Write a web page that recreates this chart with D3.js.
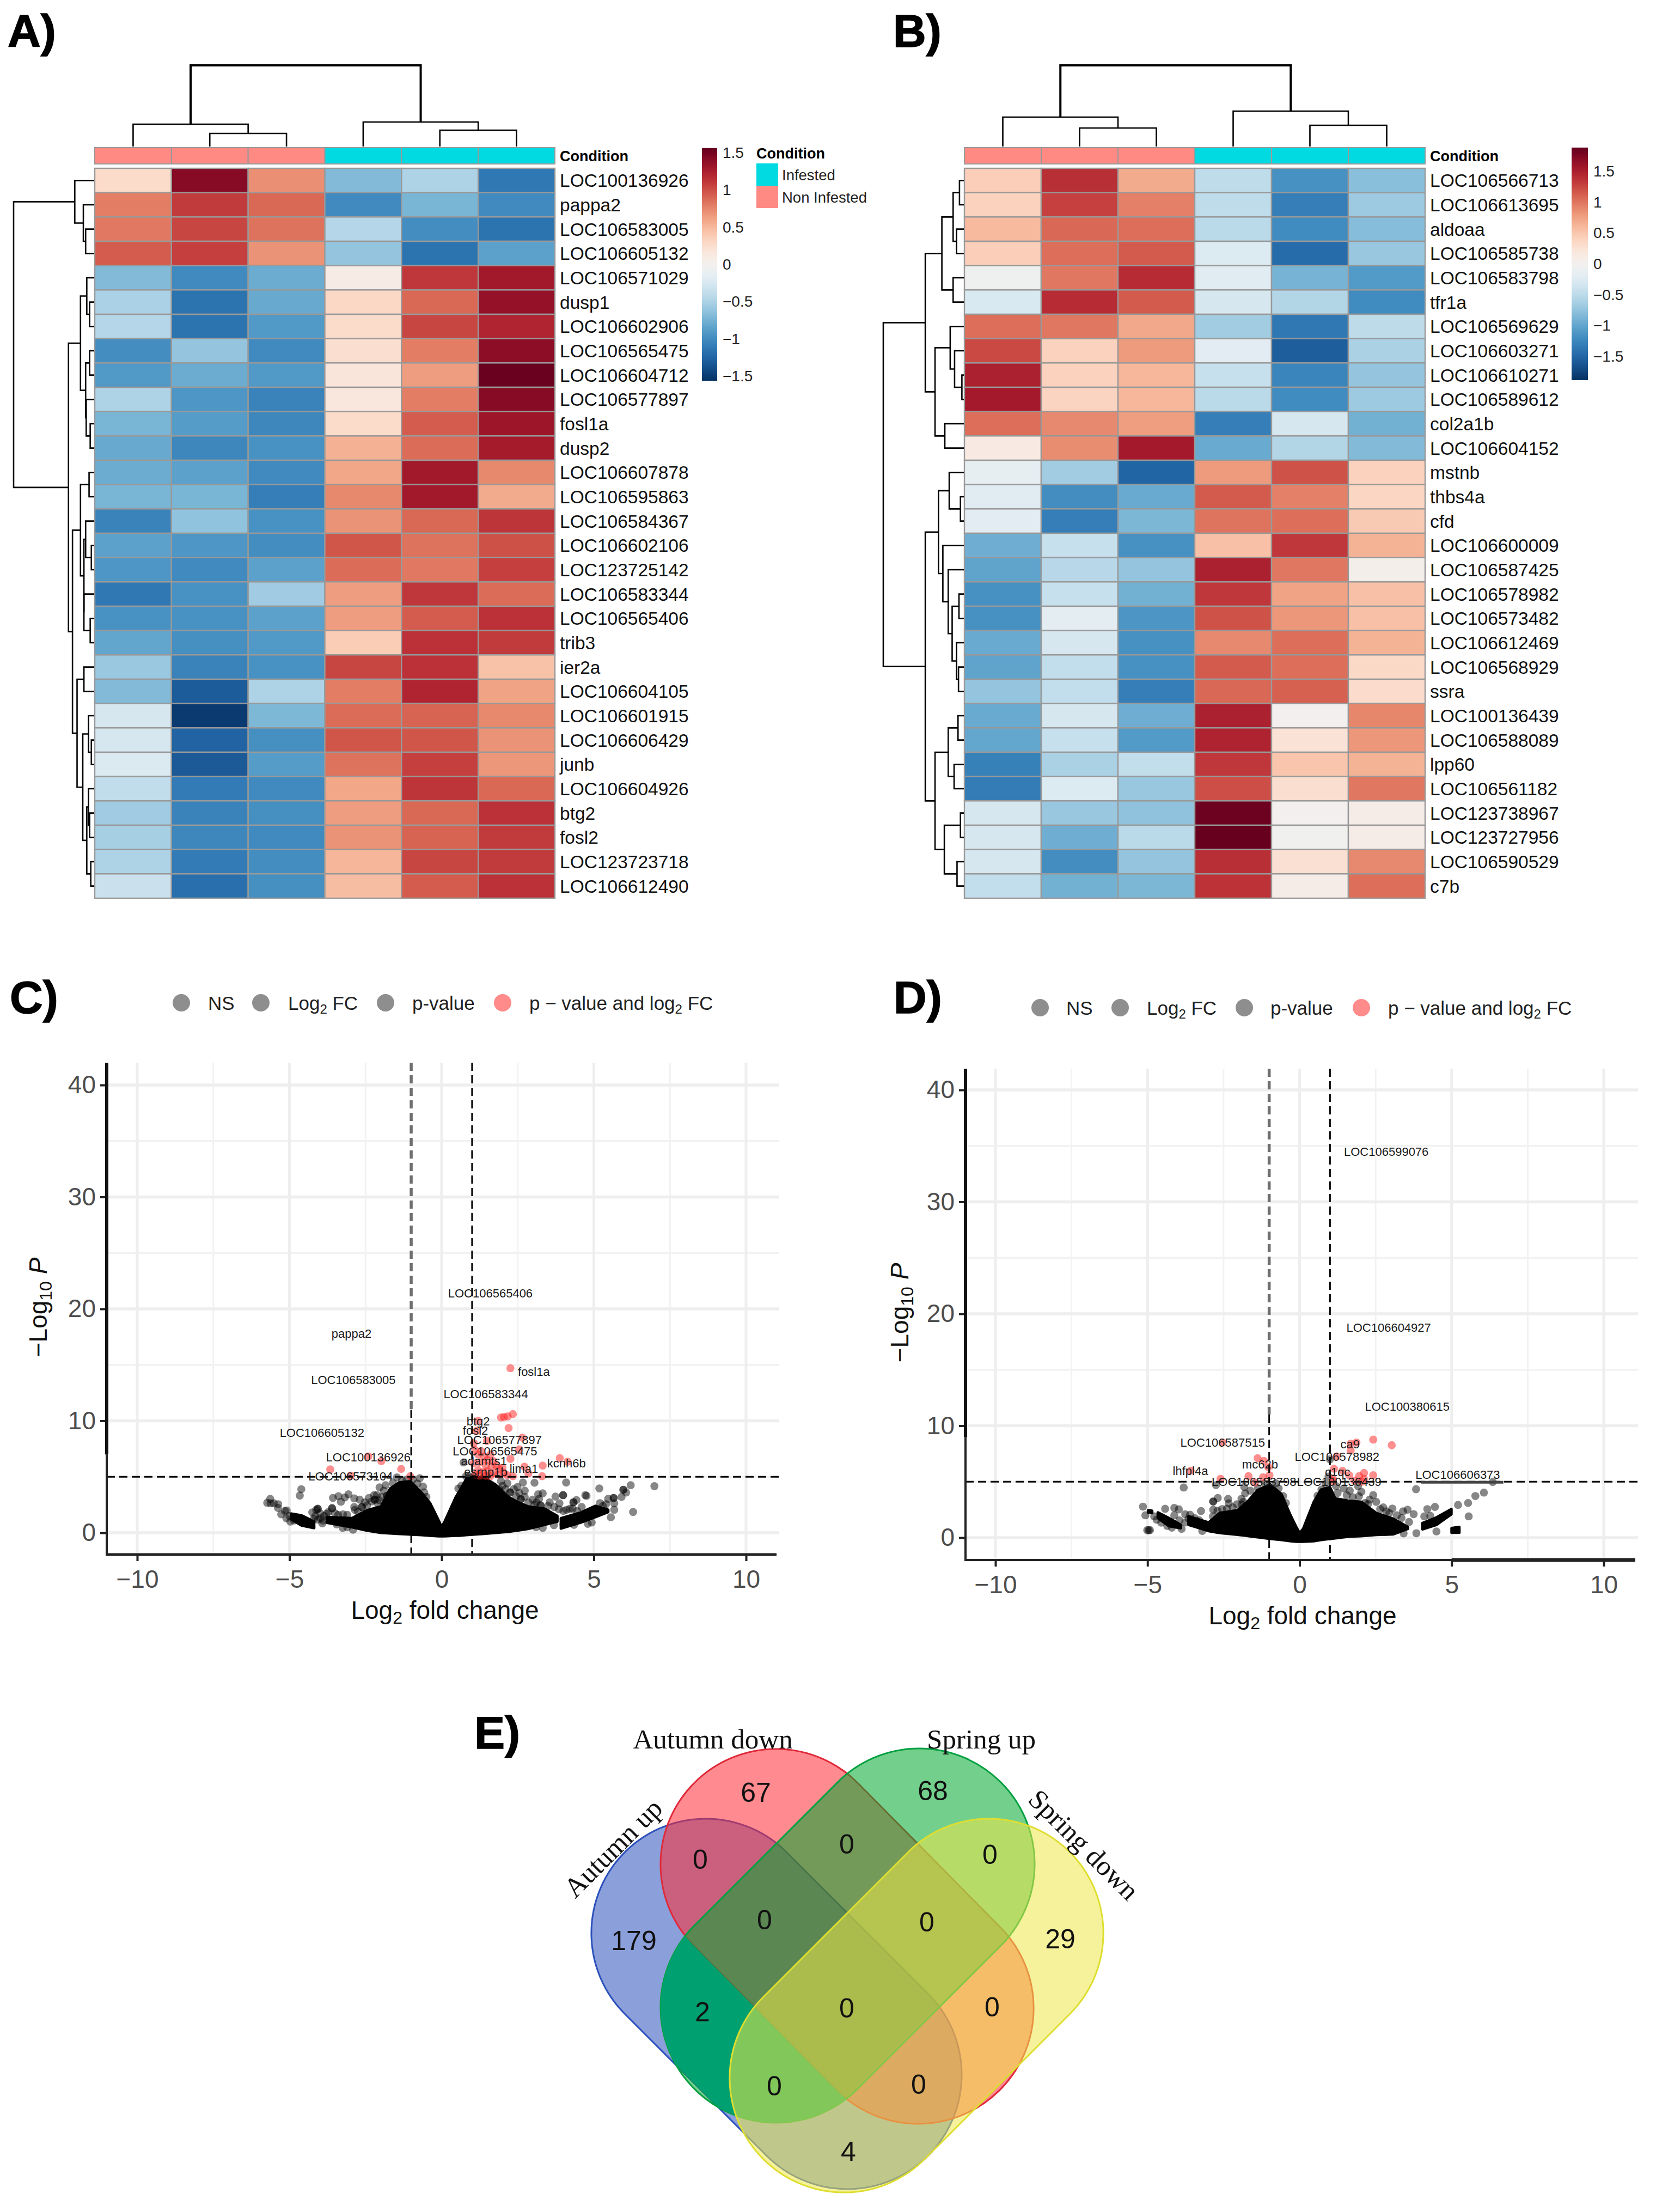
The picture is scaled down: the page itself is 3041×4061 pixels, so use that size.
<!DOCTYPE html>
<html><head><meta charset="utf-8">
<script src="https://cdn.jsdelivr.net/npm/d3@7"></script>
<style>html,body{margin:0;padding:0;background:#fff}svg{display:block}text{font-family:"Liberation Sans",Arial,sans-serif}</style>
</head><body><svg id="c" width="3041" height="4061" viewBox="0 0 3041 4061"></svg>
<script>
// ---------- DATA ----------
const columnConditions=["Non Infested","Non Infested","Non Infested","Infested","Infested","Infested"];
const genesA=["LOC100136926","pappa2","LOC106583005","LOC106605132","LOC106571029","dusp1","LOC106602906","LOC106565475","LOC106604712","LOC106577897","fosl1a","dusp2","LOC106607878","LOC106595863","LOC106584367","LOC106602106","LOC123725142","LOC106583344","LOC106565406","trib3","ier2a","LOC106604105","LOC106601915","LOC106606429","junb","LOC106604926","btg2","fosl2","LOC123723718","LOC106612490"];
const valuesA=[[.28,1.42,.72,-.68,-.48,-1.12],[.8,1.1,.9,-1.0,-.72,-1.0],[.82,1.05,.85,-.45,-.98,-1.15],[.95,1.08,.7,-.6,-1.15,-.85],[-.68,-1.0,-.78,.1,1.12,1.3],[-.5,-1.15,-.8,.3,.9,1.36],[-.45,-1.15,-.9,.28,1.05,1.22],[-.98,-.6,-1.0,.25,.8,1.4],[-.9,-.78,-.9,.18,.65,1.55],[-.48,-.92,-1.05,.16,.8,1.42],[-.72,-.88,-1.02,.28,.95,1.33],[-.8,-1.02,-.95,.55,.88,1.28],[-.78,-.85,-1.0,.6,1.3,.75],[-.72,-.72,-1.08,.75,1.3,.58],[-1.05,-.62,-.95,.7,.9,1.13],[-.85,-.92,-.98,.98,.85,1.0],[-.92,-1.0,-.85,.88,.82,1.08],[-1.12,-.95,-.55,.65,1.12,.88],[-.95,-.95,-.85,.65,.95,1.15],[-.82,-.97,-.9,.38,1.15,1.1],[-.58,-1.05,-.95,1.05,1.15,.45],[-.68,-1.3,-.48,.8,1.22,.62],[-.25,-1.5,-.7,.88,.92,.75],[-.25,-1.25,-.97,.98,.98,.7],[-.22,-1.32,-.88,.85,1.08,.68],[-.38,-1.1,-1.0,.6,1.13,.9],[-.55,-1.05,-.97,.65,.9,1.15],[-.52,-1.02,-1.0,.7,.92,1.1],[-.48,-1.1,-.98,.52,1.05,1.1],[-.33,-1.18,-.97,.48,.95,1.15]];
const genesB=["LOC106566713","LOC106613695","aldoaa","LOC106585738","LOC106583798","tfr1a","LOC106569629","LOC106603271","LOC106610271","LOC106589612","col2a1b","LOC106604152","mstnb","thbs4a","cfd","LOC106600009","LOC106587425","LOC106578982","LOC106573482","LOC106612469","LOC106568929","ssra","LOC100136439","LOC106588089","lpp60","LOC106561182","LOC123738967","LOC123727956","LOC106590529","c7b"];
const valuesB=[[.45,1.4,.7,-.47,-1.15,-.78],[.42,1.3,.95,-.47,-1.3,-.68],[.6,1.08,1.05,-.5,-1.2,-.8],[.45,1.05,1.15,-.25,-1.45,-.7],[-.05,1.0,1.42,-.22,-.88,-1.08],[-.28,1.42,1.15,-.3,-.55,-1.2],[1.05,1.0,.72,-.65,-1.35,-.48],[1.25,.42,.8,-.2,-1.55,-.6],[1.5,.42,.62,-.42,-1.25,-.72],[1.55,.4,.62,-.5,-1.2,-.68],[1.05,.9,.78,-1.3,-.3,-.9],[.15,.88,1.55,-.95,-.55,-.82],[-.15,-.65,-1.5,.8,1.2,.42],[-.22,-1.18,-.95,1.15,.95,.38],[-.2,-1.3,-.85,1.02,1.05,.48],[-.92,-.42,-1.15,.55,1.35,.65],[-1.0,-.52,-.72,1.5,1.0,.05],[-1.15,-.42,-.9,1.35,.75,.55],[-1.15,-.18,-1.12,1.2,.82,.55],[-.95,-.3,-1.15,.9,1.05,.65],[-1.0,-.45,-1.15,1.15,1.05,.35],[-.72,-.45,-1.3,1.08,1.12,.32],[-.95,-.3,-.92,1.5,0,.92],[-.98,-.42,-1.08,1.48,.25,.82],[-1.28,-.6,-.45,1.35,.52,.65],[-1.32,-.25,-.7,1.22,.3,1.0],[-.3,-.7,-.75,1.85,0,.1],[-.3,-.92,-.5,1.88,-.02,.1],[-.3,-1.18,-.72,1.4,.28,.9],[-.45,-.9,-.85,1.38,.1,1.05]];
// dendrograms: [height, left, right]; an integer is a leaf
const colTreeA=[149,[41,0,[24,1,2]],[45,3,[30,4,5]]];
const colTreeB=[149,[54,0,[34,1,2]],[65,3,[39,4,5]]];
const rowTreeA=[141,[34,0,[19,1,[15,2,3]]],[45,[24,[13,4,[8,5,6]],[15,[8,7,8],[14,9,[7,10,11]]]],[38,[24,[9,12,13],[18,[15,14,[5,15,16]],[18,17,[7,18,19]]]],[30,[18,20,21],[20,[10,22,[5,23,24]],[13,[10,25,[8,26,27]],[6,28,29]]]]]]];
const rowTreeB=[165,[79,[45,[22,[9,0,1],[15,2,3]],[22,4,5]],[59,[28,6,[19,7,[4,8,9]]],[39,10,11]]],[79,[52,[30,12,[7,13,14]],[43,15,[32,16,[24,[10,17,18],[15,19,[11,20,21]]]]]],[59,[32,[12,22,23],[20,24,25]],[40,[7,26,27],[14,28,29]]]]];
const legendTicksA=[1.5,1,.5,0,-.5,-1,-1.5];
const legendTicksB=[1.5,1,.5,0,-.5,-1,-1.5];
const xTicks=[-10,-5,0,5,10], yTicks=[0,10,20,30,40], xMinor=[-7.5,-2.5,2.5,7.5], yMinor=[5,15,25,35];
// volcano C
const massXC=[-3.77,-2.94,-2.46,-1.99,-1.69,-1.39,-1.03,-.68,-.38,-.1,0,.1,.46,.58,.82,1.35,1.77,2.19,2.49,2.84,3.38,3.8];
const massTopC=[1.4,1.3,2.0,2.35,3.95,4.5,4.6,3.65,2.65,1.1,.5,1.0,3.15,3.7,4.85,5.0,4.3,3.2,2.75,2.35,2.15,1.5];
const massBotC=[.9,.5,.2,0,-.05,-.1,-.15,-.2,-.25,-.3,-.3,-.3,-.25,-.25,-.2,-.1,0,.1,.2,.35,.72,1.0];
const tailsC=[{x:[-4.94,-4.6,-4.19],top:[1.7,1.55,1.0],bot:[1.2,.65,.42]},{x:[3.92,4.57,5.05,5.47],top:[1.3,1.8,2.4,2.05],bot:[.38,.92,1.4,1.85]}];
const grayC=[[-4.61,3.89],[-4.66,3.32],[-5.63,3.03],[-5.73,2.68],[-5.62,2.63],[-5.51,2.63],[-5.37,2.55],[-5.38,2.22],[-5.09,1.99],[-5.27,1.65],[-5.15,1.95],[-4.97,1.0],[-4.07,2.14],[-4.07,2.14],[-4.12,2.05],[-4.25,1.82],[-4.07,1.17],[-3.92,.84],[-3.86,1.5],[-3.98,1.3],[-3.6,2.19],[-3.6,2.19],[-3.57,3.11],[-3.39,3.27],[-3.31,2.77],[-3.18,3.16],[-3.06,3.44],[-2.87,3.07],[-2.69,2.96],[-2.87,2.3],[-2.85,2.05],[-3.24,1.65],[-3.25,.44],[-2.91,.27],[-2.52,2.72],[-2.39,3.11],[-2.13,3.36],[-2.1,2.63],[-2.22,3.36],[-2.3,2.8],[-2.04,4.05],[-1.84,4.25],[-1.9,3.76],[-1.98,3.2],[-1.47,4.95],[-1.3,4.7],[-1.15,4.75],[-.95,4.75],[-.8,4.4],[-.72,4.87],[-.61,4.13],[-.57,3.6],[-.5,3.2],[-1.6,4.45],
[-4.2,1.25],[-4.15,1.5],[-4.0,1.75],[-3.9,1.1],[-3.78,1.7],[-3.72,1.85],[-3.5,1.75],[-3.4,1.6],[-3.1,1.6],[-2.75,1.9],[-2.62,2.3],[-2.62,2.3],[-2.45,2.45],[-2.2,2.95],[-2.2,2.95],[-2.05,2.9],[-1.8,3.3],[-1.8,3.3],[-5.0,1.5],[-5.1,1.3],[-4.85,1.1],[-3.45,.75],[-3.1,.5],
[3.05,4.47],[4.09,4.49],[5.18,3.96],[6.99,4.16],[6.21,4.25],[5.97,3.84],[5.97,3.84],[6.06,3.6],[5.91,3.2],[6.29,1.86],[5.56,1.38],[5.67,2.06],[5.65,3.11],[5.65,3.11],[5.67,2.63],[5.47,3.03],[4.72,3.36],[4.76,3.3],[4.33,2.72],[4.33,2.72],[4.43,2.92],[4.6,2.3],[3.99,3.36],[3.99,3.36],[3.74,3.23],[3.87,2.63],[3.55,2.72],[3.32,3.52],[3.17,3.44],[3.2,3.03],[2.99,2.96],[3.11,2.72],[3.32,.44],[3.69,.68],[2.73,3.76],[2.73,3.2],[2.67,4.49],[2.49,4.09],[2.37,3.9],[2.16,4.42],[1.89,3.9],[1.77,3.84],[1.59,4.2],[2.55,3.55],[4.21,2.14],[4.1,2.05],[4.93,.92],[4.8,.8],[3.1,.5],[.72,6.28],[.8,5.05],[.55,3.95],[.65,4.2],[.9,5.0],[1.05,5.05],
[1.95,4.6],[2.0,4.2],[2.25,3.6],[2.25,3.6],[2.1,3.9],[2.45,3.25],[2.6,3.0],[2.6,3.0],[2.85,2.7],[3.05,2.5],[3.25,2.45],[3.25,2.45],[3.5,2.4],[3.7,2.3],[3.85,2.1],[4.0,1.95],[4.3,2.15],[4.45,1.95],[4.0,.75],[4.35,.7],[5.3,2.4],[5.4,2.55],[5.2,2.65]];
const redC=[[2.26,14.7],[2.05,10.35],[2.34,10.6],[2.17,10.4],[1.95,10.3],[2.2,9.35],[1.2,10.0],[1.15,9.1],[2.65,8.5],[1.49,8.2],[1.06,8.0],[2.55,7.45],[3.88,6.67],[4.14,6.35],[3.32,6.0],[3.3,5.05],[2.72,5.9],[2.85,5.3],[2.26,6.6],[2.34,5.05],[1.1,7.4],[1.2,7.0],[1.3,7.3],[1.4,6.8],[1.5,6.5],[1.6,7.0],[1.7,6.4],[1.25,6.3],[1.45,6.0],[1.65,5.9],[1.8,6.0],[1.9,5.7],[2.0,5.8],[1.2,5.6],[1.35,5.4],[1.5,5.5],[1.7,5.3],[1.85,5.2],[2.05,5.3],[1.1,5.2],[1.25,5.1],[1.45,5.1],[1.6,5.05],[2.15,5.15],[1.05,6.2],[-3.66,5.66],[-2.41,6.82],[-1.98,6.4],[-1.33,5.7],[-1.03,5.05],[-2.99,5.1]];
const labelsC=[["LOC106565406",1.6,21.4],["pappa2",-2.96,17.8],["fosl1a",3.03,14.4],["LOC106583005",-2.9,13.65],["LOC106583344",1.45,12.4],["btg2",1.2,9.96],["LOC106605132",-3.93,8.95],["fosl2",1.11,9.15],["LOC106577897",1.9,8.33],["LOC106565475",1.75,7.29],["LOC100136926",-2.41,6.78],["adamts1",1.39,6.4],["kcnh6b",4.1,6.24],["lima1",2.7,5.74],["esrnp1b",1.45,5.47],["LOC106573104",-2.99,5.04]];
// volcano D
const massXD=[-3.65,-2.99,-2.63,-2.04,-1.68,-1.38,-.97,-.6,-.3,-.1,0,.12,.47,.71,1.0,1.17,1.6,2.03,2.52,3.07,3.56];
const massTopD=[1.9,1.35,2.2,2.45,3.3,4.25,4.75,3.9,2.0,.9,.4,.8,3.2,4.3,4.5,3.5,3.3,3.2,2.2,1.7,.95];
const massBotD=[1.15,.6,.42,.27,.15,.05,-.1,-.2,-.3,-.35,-.35,-.35,-.3,-.2,-.1,-.05,.1,.15,.25,.3,.8];
const tailsD=[{x:[-4.66,-4.3,-3.91],top:[2.25,1.75,1.15],bot:[1.75,1.05,.85]},{x:[-4.98,-4.85],top:[2.45,2.4],bot:[2.25,2.2]},{x:[4.04,4.5,4.99],top:[1.3,1.8,2.55],bot:[.75,1.15,2.1]},{x:[5.0,5.25],top:[.85,.95],bot:[.45,.45]}];
const grayD=[[-3.81,4.48],[-5.15,2.77],[-5.07,2.0],[-5.01,.67],[-4.92,.67],[-4.96,.67],[-4.42,2.58],[-4.12,2.66],[-3.97,2.53],[-4.12,2.0],[-3.24,2.38],[-3.76,2.09],[-3.76,1.36],[-3.88,.78],[-4.2,.9],[-3.2,.6],[-2.84,3.23],[-2.84,3.23],[-2.69,3.55],[-2.35,3.47],[-2.33,3.07],[-2.06,2.98],[-2.84,2.5],[-2.39,2.58],[-1.91,3.47],[-1.82,4.53],[-1.79,3.96],[-1.62,4.2],[-2.75,4.69],[-1.37,4.4],[-1.15,4.85],[-.78,4.86],[-.69,4.4],[-.54,3.71],[-.45,3.1],[.59,3.75],
[-4.78,1.9],[-4.7,1.6],[-4.55,1.35],[-4.35,1.05],[-3.95,1.55],[-3.6,2.05],[-3.65,1.7],[-3.45,1.75],[-3.3,1.55],[-2.85,1.9],[-2.7,2.4],[-2.55,2.55],[-2.2,2.7],[-1.9,2.95],[-1.85,3.2],
[5.21,2.92],[5.54,3.1],[5.78,3.72],[6.06,4.03],[5.56,1.9],[6.35,4.97],[3.83,4.33],[3.42,.39],[3.84,.4],[4.5,.55],[1.0,7.0],[.95,5.45],[.85,4.8],[.72,4.3],[1.2,4.6],[1.45,4.4],[1.65,4.2],[1.92,4.6],[2.03,4.1],[2.3,3.4],[2.42,3.8],[2.52,3.2],[2.75,2.7],[2.85,2.35],[3.05,2.6],[3.2,2.0],[3.4,2.35],[3.55,2.5],[3.75,2.1],[4.2,2.55],[4.45,2.75],[4.1,1.9],[3.6,1.4],[1.25,4.0],[1.75,3.6],[2.15,3.1],[1.55,3.8],[1.95,3.7],[2.25,3.0],[2.65,2.55],[2.95,2.2],[3.35,1.75],[4.3,1.95]];
const redD=[[-2.53,8.5],[-1.38,7.1],[-1.17,6.86],[-1.03,6.3],[-3.58,5.98],[-2.6,5.26],[-1.68,5.5],[-1.2,5.4],[-.99,5.58],[-1.47,4.93],[2.42,8.76],[3.03,8.26],[1.68,8.4],[1.87,8.5],[1.68,7.8],[1.22,7.25],[1.13,6.16],[1.41,5.97],[2.12,5.78],[2.42,5.58],[1.96,5.5],[1.63,5.58],[1.09,5.3],[2.12,5.25],[1.8,5.1],[1.1,5.05],[2.05,5.0]];
const labelsD=[["LOC106599076",2.85,34.5],["LOC106604927",2.93,18.8],["LOC100380615",3.54,11.74],["LOC106587515",-2.53,8.53],["ca9",1.66,8.37],["LOC106578982",1.23,7.25],["mc62b",-1.3,6.55],["lhfpl4a",-3.59,5.97],["c1qc",1.25,5.89],["LOC106606373",5.2,5.66],["LOC106583798",-1.5,5.0],["LOC100136439",1.3,5.0]];
const connectorD=[[4.0,4.95],[6.7,4.95]];
// Venn
const vennSets=[{name:"Autumn up",fill:"#2c50bb",edge:"#2c50bb",ends:[[1296,3549],[1556,3809]],r:210},
{name:"Autumn down",fill:"#ff2a33",edge:"#e02a3a",ends:[[1425,3423],[1686,3687]],r:212},
{name:"Spring up",fill:"#00a72e",edge:"#00a040",ends:[[1688,3422],[1425,3685]],r:212},
{name:"Spring down",fill:"#ece749",edge:"#dede30",ends:[[1816,3549],[1550,3815]],r:210}];
const vennCounts=[[179,1164,3562],[67,1388,3290],[68,1713,3287],[29,1947,3559],[0,1286,3413],[0,1555,3385],[0,1818,3404],[0,1404,3524],[0,1702,3528],[2,1290,3693],[0,1555,3686],[0,1822,3684],[0,1422,3829],[0,1687,3826],[4,1558,3949]];

// ---------- DRAW ----------
const svg=d3.select("#c");
const black="#000";
function panelLetter(t,x,y){svg.append("text").attr("x",x).attr("y",y).attr("font-size",84).attr("font-weight",700).attr("fill",black).style("stroke","#000").style("stroke-width",1.5).text(t);}
panelLetter("A)",14,86);panelLetter("B)",1640,86);panelLetter("C)",18,1860);panelLetter("D)",1641,1860);panelLetter("E)",871,3210);

function drawTree(g,node,posOf,hScale,orient,thick){
  function rec(n,top){
    if(typeof n==="number")return{p:posOf(n),h:hScale(0)};
    const a=rec(n[1],false),b=rec(n[2],false),H=hScale(n[0]);
    const d=orient==="top"?`M${a.p},${a.h}V${H}H${b.p}V${b.h}`:`M${a.h},${a.p}H${H}V${b.p}H${b.h}`;
    g.append("path").attr("d",d).attr("fill","none").attr("stroke",black).attr("stroke-width",top?4:2.6);
    return{p:(a.p+b.p)/2,h:H};
  }
  rec(node,orient==="top");
}
function heatmap(o){
  const g=svg.append("g");
  const x=d3.scaleBand().domain(d3.range(6)).range([o.x0,o.x1]);
  const y=d3.scaleBand().domain(d3.range(o.genes.length)).range([309,1649]);
  const color=d3.scaleSequential(d3.interpolateRdBu).domain([o.max,-o.max]);
  const condColor=d3.scaleOrdinal().domain(["Infested","Non Infested"]).range(["#00dae0","#ff8a84"]);
  g.selectAll(".a").data(columnConditions).join("rect").attr("x",(d,i)=>x(i)).attr("y",271).attr("width",x.bandwidth()).attr("height",30).attr("fill",d=>condColor(d)).attr("stroke","#999").attr("stroke-width",2);
  g.append("text").attr("x",o.x1+9).attr("y",286).attr("dy",".36em").attr("font-size",27).attr("font-weight",700).text("Condition");
  o.vals.forEach((r,i)=>r.forEach((v,j)=>g.append("rect").attr("x",x(j)).attr("y",y(i)).attr("width",x.bandwidth()).attr("height",y.bandwidth()).attr("fill",color(v)).attr("stroke","#999").attr("stroke-width",2.4)));
  g.selectAll(".g").data(o.genes).join("text").attr("x",o.x1+9).attr("y",(d,i)=>y(i)+y.bandwidth()/2).attr("dy",".36em").attr("font-size",33.5).attr("fill","#111").text(d=>d);
  const topH=d3.scaleLinear().domain([0,149]).range([269,120]);
  drawTree(g,o.colTree,i=>x(i)+x.bandwidth()/2,topH,"top");
  const rowH=d3.scaleLinear().domain([0,o.rowTree[0]]).range([o.x0-1,o.rootX]);
  drawTree(g,o.rowTree,i=>y(i)+y.bandwidth()/2,rowH,"left");
  const cb=d3.scaleLinear().domain(o.cbDomain).range(o.cbRange);
  const vs=d3.range(o.max,-o.max,-(2*o.max)/140);
  g.selectAll(".cb").data(vs).join("rect").attr("x",o.cbx).attr("width",o.cbw).attr("y",d=>cb(d)).attr("height",4).attr("fill",d=>color(d));
  g.selectAll(".cbt").data(o.ticks).join("text").attr("x",o.cbx+o.cbw+10).attr("y",d=>cb(d)).attr("dy",".36em").attr("font-size",28).attr("fill","#222").text(d=>d3.format("")(d).replace("-","\u2212"));
}
heatmap({x0:174,x1:1019,genes:genesA,vals:valuesA,max:1.56,colTree:colTreeA,rowTree:rowTreeA,rootX:25,cbx:1289,cbw:28,cbDomain:[1.5,-1.5],cbRange:[280,690],ticks:legendTicksA});
heatmap({x0:1771,x1:2617,genes:genesB,vals:valuesB,max:1.88,colTree:colTreeB,rowTree:rowTreeB,rootX:1622,cbx:2886,cbw:30,cbDomain:[1.5,-1.5],cbRange:[314,654],ticks:legendTicksB});
svg.append("text").attr("x",1389).attr("y",281).attr("dy",".36em").attr("font-size",27).attr("font-weight",700).text("Condition");
[["Infested","#00dae0",300],["Non Infested","#ff8a84",341]].forEach(d=>{
  svg.append("rect").attr("x",1389).attr("y",d[2]).attr("width",40).attr("height",41).attr("fill",d[1]);
  svg.append("text").attr("x",1436).attr("y",d[2]+21).attr("dy",".36em").attr("font-size",27.5).attr("fill","#222").text(d[0]);
});

function volcano(o){
  const g=svg.append("g");
  const x=d3.scaleLinear().domain([-10,10]).range([o.xm10,o.xp10]);
  const y=d3.scaleLinear().domain([0,40]).range([o.y0,o.y40]);
  const L=o.left,R=o.right,T=o.top,B=o.bottom;
  const vline=(v,w,c)=>g.append("line").attr("x1",x(v)).attr("x2",x(v)).attr("y1",T).attr("y2",B).attr("stroke",c).attr("stroke-width",w);
  const hline=(v,w,c)=>g.append("line").attr("x1",L).attr("x2",R+5).attr("y1",y(v)).attr("y2",y(v)).attr("stroke",c).attr("stroke-width",w);
  xMinor.forEach(v=>vline(v,3,"#f2f2f2"));yMinor.forEach(v=>hline(v,3.5,"#f2f2f2"));
  xTicks.forEach(v=>vline(v,5,"#eeeeee"));yTicks.forEach(v=>hline(v,5.5,"#eeeeee"));
  const area=d3.area().x(d=>x(d[0])).y0(d=>y(d[2])).y1(d=>y(d[1]));
  const mass=[{x:o.massX,top:o.massTop,bot:o.massBot},...o.tails];
  mass.forEach(m=>g.append("path").attr("d",area(m.x.map((v,i)=>[v,m.top[i],m.bot[i]]))).attr("fill",black).attr("stroke",black).attr("stroke-width",5).attr("stroke-linejoin","round"));
  g.selectAll(".p").data(o.gray).join("circle").attr("cx",d=>x(d[0])).attr("cy",d=>y(d[1])).attr("r",7.4).attr("fill",black).attr("fill-opacity",.47);
  g.selectAll(".r").data(o.red).join("circle").attr("cx",d=>x(d[0])).attr("cy",d=>y(d[1])).attr("r",7.4).attr("fill","#ff1f1f").attr("fill-opacity",.5);
  const dash=(x1,y1,x2,y2,c,w)=>g.append("line").attr("x1",x1).attr("y1",y1).attr("x2",x2).attr("y2",y2).attr("stroke",c).attr("stroke-width",w).attr("stroke-dasharray","15,8");
  dash(x(-1),T,x(-1),y(11),"#6f6f6f",5.5);
  dash(x(-1),y(11),x(-1),B,black,3);
  dash(x(1),T,x(1),B,black,3);
  dash(L,y(5),R+5,y(5),black,3);
  if(o.connector)g.append("line").attr("x1",x(o.connector[0][0])).attr("x2",x(o.connector[1][0])).attr("y1",y(o.connector[0][1])).attr("y2",y(o.connector[1][1])).attr("stroke","#444").attr("stroke-width",5);
  g.selectAll(".l").data(o.labels).join("text").attr("x",d=>x(d[1])).attr("y",d=>y(d[2])).attr("dy",".36em").attr("text-anchor","middle").attr("font-size",22).attr("fill","#1a1a1a").text(d=>d[0]);
  const yAxis=d3.axisLeft(y).tickValues(yTicks).tickSize(12).tickFormat(d3.format("d"));
  const xAxis=d3.axisBottom(x).tickValues(xTicks).tickSize(12).tickFormat(d=>String(d).replace("-","\u2212"));
  const ya=g.append("g").attr("transform",`translate(${L},0)`).call(yAxis);
  const xa=g.append("g").attr("transform",`translate(0,${B})`).call(xAxis);
  ya.select(".domain").remove();xa.select(".domain").remove();
  // the axis lines change weight part-way in the reference
  g.append("line").attr("x1",L).attr("x2",L).attr("y1",T).attr("y2",y(o.yThickTo)).attr("stroke","#111").attr("stroke-width",6);
  g.append("line").attr("x1",L).attr("x2",L).attr("y1",y(o.yThickTo)).attr("y2",B+2).attr("stroke","#222").attr("stroke-width",4);
  g.append("line").attr("x1",L-2).attr("x2",R).attr("y1",B).attr("y2",B).attr("stroke","#222").attr("stroke-width",o.xThin);
  if(o.xThickFrom!==undefined)g.append("line").attr("x1",x(o.xThickFrom)).attr("x2",R).attr("y1",B).attr("y2",B).attr("stroke","#222").attr("stroke-width",7);
  [ya,xa].forEach(a=>{a.selectAll("line").attr("stroke","#222").attr("stroke-width",4);a.selectAll("text").attr("font-size",46).attr("fill","#4d4d4d").attr("font-family","Liberation Sans");});
  ya.selectAll("text").attr("x",-20);xa.selectAll("text").attr("y",28);
  const xt=g.append("text").attr("x",o.xTitleX).attr("y",o.xTitleY).attr("text-anchor","middle").attr("font-size",46).attr("fill","#111");
  xt.append("tspan").text("Log");xt.append("tspan").text("2").attr("font-size",32).attr("dy",9);xt.append("tspan").text(" fold change").attr("dy",-9);
  const yt=g.append("text").attr("transform",`translate(${o.yTitleX},${o.yTitleY}) rotate(-90)`).attr("text-anchor","middle").attr("font-size",46).attr("fill","#111");
  yt.append("tspan").text("\u2212Log");yt.append("tspan").text("10").attr("font-size",32).attr("dy",9);yt.append("tspan").text(" ").attr("dy",-9);yt.append("tspan").text("P").attr("font-style","italic");
  const ly=o.legendY;
  o.legend.forEach(l=>{
    g.append("circle").attr("cx",l.dot).attr("cy",ly).attr("r",16).attr("fill",l.red?"#ff8b8b":"#8e8e8e");
    const t=g.append("text").attr("x",l.tx).attr("y",ly).attr("dy",".36em").attr("font-size",35).attr("fill","#222");
    if(l.sub){t.append("tspan").text(l.sub[0]);t.append("tspan").text("2").attr("font-size",24).attr("dy",7);t.append("tspan").text(l.sub[1]).attr("dy",-7);}
    else t.text(l.text);
  });
}
volcano({xm10:252,xp10:1370,y0:2814,y40:1992,left:196,right:1426,top:1951,bottom:2854,yThickTo:7,xThin:5,massX:massXC,massTop:massTopC,massBot:massBotC,tails:tailsC,gray:grayC,red:redC,labels:labelsC,xTitleX:817,xTitleY:2972,yTitleX:86,yTitleY:2400,legendY:1841,
 legend:[{dot:333,tx:382,text:"NS"},{dot:479,tx:529,sub:["Log"," FC"]},{dot:708,tx:757,text:"p-value"},{dot:923,tx:972,red:1,sub:["p \u2212 value and log"," FC"]}]});
volcano({xm10:1828,xp10:2945,y0:2823,y40:2001,left:1773,right:3003,top:1962,bottom:2864,yThickTo:9,xThin:4,xThickFrom:5,massX:massXD,massTop:massTopD,massBot:massBotD,tails:tailsD,gray:grayD,red:redD,labels:labelsD,connector:connectorD,xTitleX:2392,xTitleY:2982,yTitleX:1668,yTitleY:2410,legendY:1850,
 legend:[{dot:1910,tx:1958,text:"NS"},{dot:2057,tx:2106,sub:["Log"," FC"]},{dot:2285,tx:2333,text:"p-value"},{dot:2500,tx:2549,red:1,sub:["p \u2212 value and log"," FC"]}]});

// Venn
const vg=svg.append("g"), defs=svg.append("defs");
function capsule(s){
  const [a,b]=s.ends,ang=Math.atan2(b[1]-a[1],b[0]-a[0]),nx=-Math.sin(ang)*s.r,ny=Math.cos(ang)*s.r;
  const p=d3.path();
  p.moveTo(a[0]+nx,a[1]+ny);p.lineTo(b[0]+nx,b[1]+ny);
  p.arc(b[0],b[1],s.r,ang+Math.PI/2,ang-Math.PI/2,true);
  p.lineTo(a[0]-nx,a[1]-ny);
  p.arc(a[0],a[1],s.r,ang-Math.PI/2,ang+Math.PI/2,true);
  p.closePath();
  return p.toString();
}
const [vBlue,vRed,vGreen,vYellow]=vennSets;
const drawSet=s=>vg.append("path").attr("d",capsule(s)).attr("fill",s.fill).attr("fill-opacity",.55).attr("stroke",s.edge).attr("stroke-width",3);
drawSet(vBlue);drawSet(vRed);drawSet(vGreen);
// Autumn up + Spring up overlap is a much deeper teal in the reference
defs.append("clipPath").attr("id","clipBlue").append("path").attr("d",capsule(vBlue));
const notRed=defs.append("mask").attr("id","notRed").attr("maskUnits","userSpaceOnUse").attr("x",0).attr("y",3000).attr("width",3041).attr("height",1061);
notRed.append("rect").attr("x",0).attr("y",3000).attr("width",3041).attr("height",1061).attr("fill","#fff");
notRed.append("path").attr("d",capsule(vRed)).attr("fill","#000");
vg.append("g").attr("clip-path","url(#clipBlue)").append("g").attr("mask","url(#notRed)").append("path").attr("d",capsule(vGreen)).attr("fill","#00a070");
drawSet(vYellow);
vg.selectAll(".n").data(vennCounts).join("text").attr("x",d=>d[1]).attr("y",d=>d[2]).attr("dy",".36em").attr("text-anchor","middle").attr("font-size",50).attr("fill","#111").text(d=>d[0]);
const serif='"Liberation Serif",serif';
[["Autumn down",1309,3193,0],["Spring up",1802,3193,0],["Autumn up",1126,3393,-45],["Spring down",1990,3387,45]].forEach(d=>{
  vg.append("text").attr("transform",`translate(${d[1]},${d[2]}) rotate(${d[3]})`).attr("text-anchor","middle").attr("dy",".33em").attr("font-size",51).attr("fill","#111").style("font-family",serif).text(d[0]);
});
</script></body></html>
